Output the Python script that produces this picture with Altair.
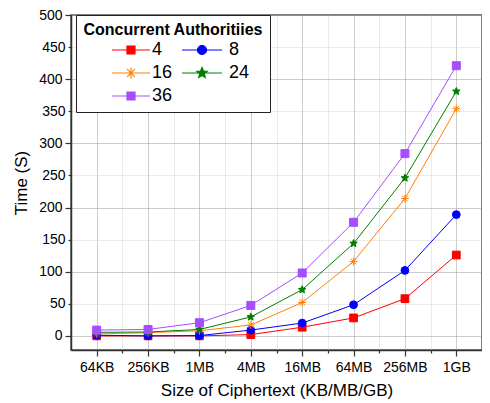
import json
import altair as alt
import pandas as pd

sizes = ["64KB", "256KB", "1MB", "4MB", "16MB", "64MB", "256MB", "1GB"]
series = ["4", "8", "16", "24", "36"]
t4 = [0, 0, 0, 2, 13.5, 28, 58, 126]
t8 = [1, 0, 0.5, 9, 20, 48.5, 102, 189]
t16 = [3, 5, 8, 17, 52, 116, 214, 354]
t24 = [5.5, 6, 10, 29.5, 72, 144, 246, 381]
t36 = [9, 10, 20.5, 47.5, 98, 177, 284, 421]
colors = ["#ff0000", "#0000ff", "#ff8000", "#008000", "#a64dff"]

values = [t4, t8, t16, t24, t36]
rows = []
for s, vals in zip(series, values):
    for i, v in enumerate(vals):
        rows.append({"idx": i, "size": sizes[i], "series": s, "time": v})
df = pd.DataFrame(rows)

FONT = "Liberation Sans"

# marker shapes used in the plot (unit square -1..1)
STAR = [(0, -1), (0.2645, -0.364), (0.951, -0.309), (0.428, 0.139), (0.588, 0.809),
        (0, 0.45), (-0.588, 0.809), (-0.428, 0.139), (-0.951, -0.309), (-0.2645, -0.364)]
star_path = "M" + "L".join(f"{x:.3f},{y:.3f}" for x, y in STAR) + "Z"
ast_path = "M-1,0L1,0M0,-1L0,1M-0.7,-0.7L0.7,0.7M-0.7,0.7L0.7,-0.7"
plot_shapes = ["square", "circle", ast_path, star_path, "square"]

# legend symbols: a line with the marker in the middle (unit = 7px)
U = 7.0
def px(v):
    return f"{v / U:.3f}"

def make_symbol(kind, l0, l1):
    mc = (l0 + l1) / 2
    p = f"M{px(l0)},0L{px(l1)},0"
    if kind == "square":
        h = 4
        p += (f"M{px(mc - h)},{px(-h)}L{px(mc + h)},{px(-h)}L{px(mc + h)},{px(h)}"
              f"L{px(mc - h)},{px(h)}Z")
    elif kind == "circle":
        r = 4.5
        p += (f"M{px(mc + r)},0A{px(r)},{px(r)},0,1,1,{px(mc - r)},0"
              f"A{px(r)},{px(r)},0,1,1,{px(mc + r)},0Z")
    elif kind == "star":
        r = 5.5
        p += "M" + "L".join(f"{px(mc + x * r)},{px(y * r)}" for x, y in STAR) + "Z"
    elif kind == "asterisk":
        r = 5.5
        d = r * 0.7
        p += (f"M{px(mc)},{px(-r)}L{px(mc)},{px(r)}M{px(mc - d)},{px(-d)}L{px(mc + d)},{px(d)}"
              f"M{px(mc - d)},{px(d)}L{px(mc + d)},{px(-d)}")
    return p

lead = f"M{px(-43)},0"
legend_shapes = [
    lead + make_symbol("square", 7, 45),
    make_symbol("circle", 0, 40),
    lead + make_symbol("asterisk", 7, 45),
    make_symbol("star", 0, 40),
    lead + make_symbol("square", 7, 45),
]

x_labels = json.dumps(sizes)
x_axis = alt.Axis(
    values=[i / 2 for i in range(0, 15)],
    labelExpr=f"datum.value % 1 === 0 ? {x_labels}[datum.value] : ''",
    title="Size of Ciphertext (KB/MB/GB)",
    titleFont=FONT, titleFontSize=17, titleFontWeight="normal", titleColor="black",
    titlePadding=8,
    labelFont=FONT, labelFontSize=14, labelColor="black", labelPadding=4,
    labelOverlap=False, labelFlush=False,
    tickSize={"condition": {"test": "datum.value % 1 === 0", "value": 6}, "value": 3},
    tickColor="#333", tickWidth=1.2,
    domainColor="#333", domainWidth=1.5,
    grid=True,
    gridColor={"condition": {"test": "datum.value % 1 === 0", "value": "#999999"}, "value": "#d4d4d4"},
    gridDash=[1, 1], gridWidth=1,
)
y_axis = alt.Axis(
    values=list(range(0, 501, 50)),
    title="Time (S)",
    titleFont=FONT, titleFontSize=17, titleFontWeight="normal", titleColor="black",
    titlePadding=8,
    labelFont=FONT, labelFontSize=14, labelColor="black", labelPadding=3,
    labelOverlap=False, labelFlush=False,
    tickSize={"condition": {"test": "datum.value % 100 === 0", "value": 6}, "value": 3},
    tickColor="#333", tickWidth=1.2,
    domainColor="#333", domainWidth=1.5,
    grid=True,
    gridColor={"condition": {"test": "datum.value % 100 === 0", "value": "#999999"}, "value": "#d4d4d4"},
    gridDash=[1, 1], gridWidth=1,
)

X = alt.X("idx:Q", axis=x_axis, scale=alt.Scale(domain=[-0.5, 7.5], nice=False, zero=False))
Y = alt.Y("time:Q", axis=y_axis, scale=alt.Scale(domain=[-22, 500], nice=False, zero=False))

cscale = alt.Scale(domain=series, range=colors)

lines = alt.Chart(df).mark_line(strokeWidth=1).encode(
    x=X, y=Y,
    color=alt.Color("series:N", scale=cscale, legend=None),
    order=alt.Order("idx:Q"),
)

points = alt.Chart(df).mark_point(filled=True, size=64, strokeWidth=1, opacity=1).encode(
    x=X, y=Y,
    fill=alt.Fill("series:N", scale=cscale, legend=None),
    stroke=alt.Stroke("series:N", scale=cscale, legend=None),
    shape=alt.Shape("series:N", scale=alt.Scale(domain=series, range=plot_shapes), legend=None),
    size=alt.Size("series:N", scale=alt.Scale(domain=series, range=[60, 64, 100, 110, 64]), legend=None),
)

leg = alt.Legend(
    title="Concurrent Authoritiies", orient="none", legendX=5, legendY=0,
    columns=2, direction="horizontal", titleFont=FONT, titleFontSize=16, titleFontWeight="bold",
    titleColor="black", titleAnchor="middle", titleLimit=400, titlePadding=3,
    labelFont=FONT, labelFontSize=18, labelColor="black", labelOffset=38,
    symbolSize=196, symbolStrokeWidth=1.2, columnPadding=-8, rowPadding=5,
    strokeColor="#222", fillColor="white", padding=7, labelLimit=200,
)

legend_layer = alt.Chart(df).transform_filter("false").mark_point(filled=True, opacity=1).encode(
    x=X, y=Y,
    fill=alt.Fill("series:N", scale=cscale, legend=leg),
    stroke=alt.Stroke("series:N", scale=cscale, legend=leg),
    shape=alt.Shape("series:N", scale=alt.Scale(domain=series, range=legend_shapes), legend=leg),
)

chart = alt.layer(lines, points, legend_layer).resolve_scale(
    color="independent", fill="independent", stroke="independent", shape="independent", size="independent"
).properties(
    width=411, height=335,
    autosize=alt.AutoSizeParams(type="none"),
    padding={"left": 63, "top": 7, "right": 0, "bottom": 52},
).configure_view(stroke="#555", strokeWidth=1.5)

chart.save("out.html", embed_options={"renderer": "svg", "actions": False})
